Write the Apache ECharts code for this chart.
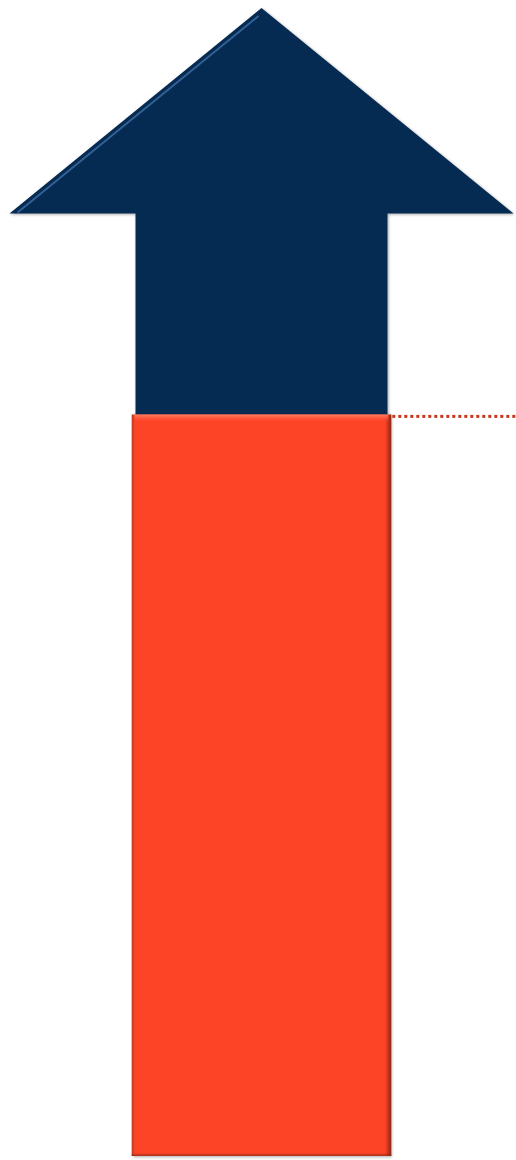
<!DOCTYPE html>
<html>
<head>
<meta charset="utf-8">
<script src="https://cdn.jsdelivr.net/npm/echarts@6/dist/echarts.min.js"></script>
<style>
html,body{margin:0;padding:0;background:#ffffff;}
#chart{width:516px;height:1160px;}
</style>
</head>
<body>
<div id="chart"></div>
<script>
// Data
const categories = ['Value'];
const baseValues = [64.6];     // orange bar
const growthValues = [17.5];   // navy shaft increase
const headValues = [17.9];     // arrow head

const chart = echarts.init(document.getElementById('chart'), null, {renderer: 'canvas'});

const seriesData = categories.map((c, i) => [i, baseValues[i], growthValues[i], headValues[i]]);

function renderItem(params, api) {
  const idx = api.value(0);
  const base = api.value(1);
  const growth = api.value(2);
  const head = api.value(3);
  const bw = api.size([1, 0])[0];
  const cx = api.coord([idx, 0])[0];
  const y0 = api.coord([idx, 0])[1];
  const yBase = api.coord([idx, base])[1];
  const yShaft = api.coord([idx, base + growth])[1];
  const yTip = api.coord([idx, base + growth + head])[1];
  const cs = params.coordSys;
  const orangeHalf = bw * 0.255;
  const shaftHalf = bw * 0.2475;
  const headHalf = bw * 0.495;
  const children = [];
  // navy shaft + head polygon
  children.push({
    type: 'polygon',
    shape: {points: [
      [cx - shaftHalf, yBase + 2],
      [cx - shaftHalf, yShaft],
      [cx - headHalf, yShaft],
      [cx, yTip],
      [cx + headHalf, yShaft],
      [cx + shaftHalf, yShaft],
      [cx + shaftHalf, yBase + 2]
    ]},
    style: {
      fill: '#062b53',
      shadowBlur: 3,
      shadowColor: 'rgba(0,0,0,0.35)',
      shadowOffsetX: 1,
      shadowOffsetY: 1
    }
  });
  // highlight along left edge of arrow head
  children.push({
    type: 'line',
    shape: {x1: cx - headHalf + 8, y1: yShaft - 1, x2: cx - 3, y2: yTip + 8},
    style: {stroke: 'rgba(90,140,200,0.55)', lineWidth: 2}
  });
  // orange base bar
  children.push({
    type: 'rect',
    shape: {x: cx - orangeHalf, y: yBase, width: orangeHalf * 2, height: y0 - yBase},
    style: {
      fill: new echarts.graphic.LinearGradient(0, 0, 1, 0, [
        {offset: 0, color: '#b8391f'},
        {offset: 0.012, color: '#fe4427'},
        {offset: 0.975, color: '#fe4427'},
        {offset: 1, color: '#8d2715'}
      ]),
      shadowBlur: 3,
      shadowColor: 'rgba(0,0,0,0.35)',
      shadowOffsetX: 1,
      shadowOffsetY: 1
    }
  });
  // top bevel highlight
  children.push({
    type: 'rect',
    shape: {x: cx - orangeHalf + 3, y: yBase, width: orangeHalf * 2 - 6, height: 8},
    style: {
      fill: new echarts.graphic.LinearGradient(0, 0, 0, 1, [
        {offset: 0, color: 'rgba(255,140,110,0.9)'},
        {offset: 1, color: 'rgba(254,68,39,0)'}
      ])
    }
  });
  // bottom darker edge
  children.push({
    type: 'rect',
    shape: {x: cx - orangeHalf, y: y0 - 3, width: orangeHalf * 2, height: 3},
    style: {
      fill: new echarts.graphic.LinearGradient(0, 0, 0, 1, [
        {offset: 0, color: 'rgba(140,40,20,0)'},
        {offset: 1, color: 'rgba(140,40,20,0.8)'}
      ])
    }
  });
  // dotted reference line at base level
  children.push({
    type: 'line',
    shape: {x1: cx + orangeHalf + 1, y1: yBase + 2, x2: cs.x + cs.width + 10, y2: yBase + 2},
    style: {stroke: '#c8381e', lineWidth: 3, lineDash: [3, 3]}
  });
  return {type: 'group', children: children};
}

chart.setOption({
  backgroundColor: '#ffffff',
  animation: false,
  grid: {left: 7, right: 0, top: 8, bottom: 4, containLabel: false},
  xAxis: {type: 'category', data: categories, show: false, boundaryGap: true},
  yAxis: {type: 'value', min: 0, max: 100, show: false, splitLine: {show: false}},
  series: [{
    type: 'custom',
    renderItem: renderItem,
    data: seriesData,
    clip: false
  }]
});
</script>
</body>
</html>
